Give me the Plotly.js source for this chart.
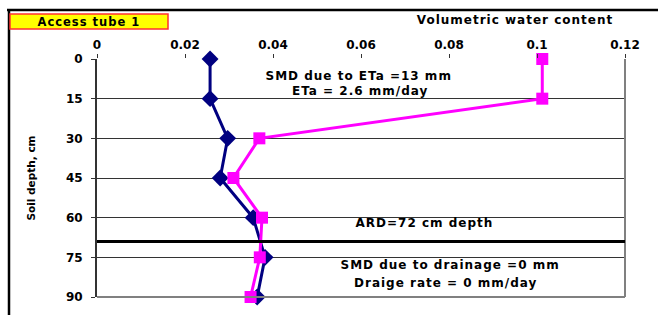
<!DOCTYPE html>
<html>
<head>
<meta charset="utf-8">
<script src="https://cdn.plot.ly/plotly-3.0.1.min.js"></script>
<style>
html,body{margin:0;padding:0;background:#fff;}
#chart{width:658px;height:315px;}
#chart .annotation-text, #chart .gtitle { letter-spacing: 1px; }
</style>
</head>
<body>
<div id="chart"></div>
<script>
// Data
var depths = [0, 15, 30, 45, 60, 75, 90];
var seriesBlue = [0.0257, 0.0257, 0.0297, 0.0280, 0.0355, 0.0382, 0.0364];
var seriesPink = [0.1012, 0.1012, 0.0369, 0.0310, 0.0375, 0.0370, 0.0349];
var xTicks = [0, 0.02, 0.04, 0.06, 0.08, 0.1, 0.12];
var xTickLabels = ["0", "0.02", "0.04", "0.06", "0.08", "0.1", "0.12"];
var yTicks = [0, 15, 30, 45, 60, 75, 90];
var ardDepth = 69;

var FONT = "DejaVu Sans, Verdana, sans-serif";

// plot area in pixels: x 97..625, y 59..297
var L = 97, R = 625, T = 59, B = 297, W = 658, H = 315;
function px(x){ return (x - L) / (R - L); }
function py(y){ return (B - y) / (B - T); }

var traces = [
  {x: seriesBlue, y: depths, mode: "lines+markers", type: "scatter", cliponaxis: false,
   line: {color: "#000080", width: 3},
   marker: {symbol: "diamond", size: 13, color: "#000080"},
   hoverinfo: "x+y", showlegend: false},
  {x: seriesPink, y: depths, mode: "lines+markers", type: "scatter", cliponaxis: false,
   line: {color: "#FF00FF", width: 3},
   marker: {symbol: "square", size: 12, color: "#FF00FF"},
   hoverinfo: "x+y", showlegend: false}
];

var annFont = {family: FONT, size: 12, color: "#000"};

var layout = {
  width: W, height: H,
  margin: {l: L, r: W - R, t: T, b: H - B, pad: 0},
  paper_bgcolor: "#fff", plot_bgcolor: "#fff",
  showlegend: false,
  font: {family: FONT, color: "#000"},
  title: {text: "<b>Volumetric water content</b>", font: {family: FONT, size: 12, color: "#000"},
          xref: "container", yref: "container", x: 515 / W, y: 1 - 20 / H,
          xanchor: "center", yanchor: "middle"},
  xaxis: {
    side: "top", range: [0, 0.12], tickmode: "array", tickvals: xTicks, ticktext: xTickLabels,
    showgrid: false, zeroline: false, showline: false,
    ticks: "outside", ticklen: 4, tickcolor: "#333", tickwidth: 1,
    tickfont: {family: FONT, size: 12, color: "#000", weight: "bold"},
    fixedrange: true
  },
  yaxis: {
    range: [90, 0], tickmode: "array", tickvals: yTicks,
    showgrid: true, gridcolor: "#333", gridwidth: 1, zeroline: false,
    showline: true, linecolor: "#333", linewidth: 2,
    ticks: "outside", ticklen: 4, tickcolor: "#333", tickwidth: 1,
    tickfont: {family: FONT, size: 12, color: "#000", weight: "bold"},
    ticklabelstandoff: 6,
    title: {text: "<b>Soil depth, cm</b>", font: {family: FONT, size: 10.5, color: "#000"}, standoff: 28},
    automargin: false, fixedrange: true
  },
  shapes: [
    {type: "line", xref: "paper", yref: "paper", x0: 1, x1: 1, y0: 0, y1: 1, line: {color: "#808080", width: 2}},
    {type: "line", xref: "paper", yref: "paper", x0: 0, x1: 1, y0: 0, y1: 0, line: {color: "#808080", width: 2}},
    {type: "line", xref: "x", yref: "y", x0: 0, x1: 0.12, y0: ardDepth, y1: ardDepth, line: {color: "#000", width: 3}},
    {type: "line", xref: "paper", yref: "paper", x0: px(7), x1: px(658), y0: py(10), y1: py(10), line: {color: "#000", width: 2.5}},
    {type: "line", xref: "paper", yref: "paper", x0: px(9), x1: px(9), y0: py(10), y1: py(316), line: {color: "#000", width: 2.5}},
    {type: "rect", xref: "paper", yref: "paper", x0: px(10), x1: px(168), y0: py(29), y1: py(14),
     fillcolor: "#FFFF00", line: {color: "#FF3030", width: 1.5}}
  ],
  annotations: [
    {text: "<b>Access tube 1</b>", xref: "paper", yref: "paper", x: px(89), y: py(22), showarrow: false,
     xanchor: "center", yanchor: "middle", font: {family: FONT, size: 11.5, color: "#000"}},
    {text: "<b>SMD due to ETa =13 mm</b>", xref: "x", yref: "y", x: 0.0595, y: 6.3, showarrow: false,
     xanchor: "center", yanchor: "middle", font: annFont},
    {text: "<b>ETa = 2.6 mm/day</b>", xref: "x", yref: "y", x: 0.0598, y: 12.1, showarrow: false,
     xanchor: "center", yanchor: "middle", font: annFont},
    {text: "<b>ARD=72 cm depth</b>", xref: "x", yref: "y", x: 0.0745, y: 62.0, showarrow: false,
     xanchor: "center", yanchor: "middle", font: annFont},
    {text: "<b>SMD due to drainage =0 mm</b>", xref: "x", yref: "y", x: 0.0802, y: 77.9, showarrow: false,
     xanchor: "center", yanchor: "middle", font: annFont},
    {text: "<b>Draige rate = 0 mm/day</b>", xref: "x", yref: "y", x: 0.0793, y: 84.7, showarrow: false,
     xanchor: "center", yanchor: "middle", font: annFont}
  ]
};

Plotly.newPlot("chart", traces, layout, {displayModeBar: false, staticPlot: true});
</script>
</body>
</html>
